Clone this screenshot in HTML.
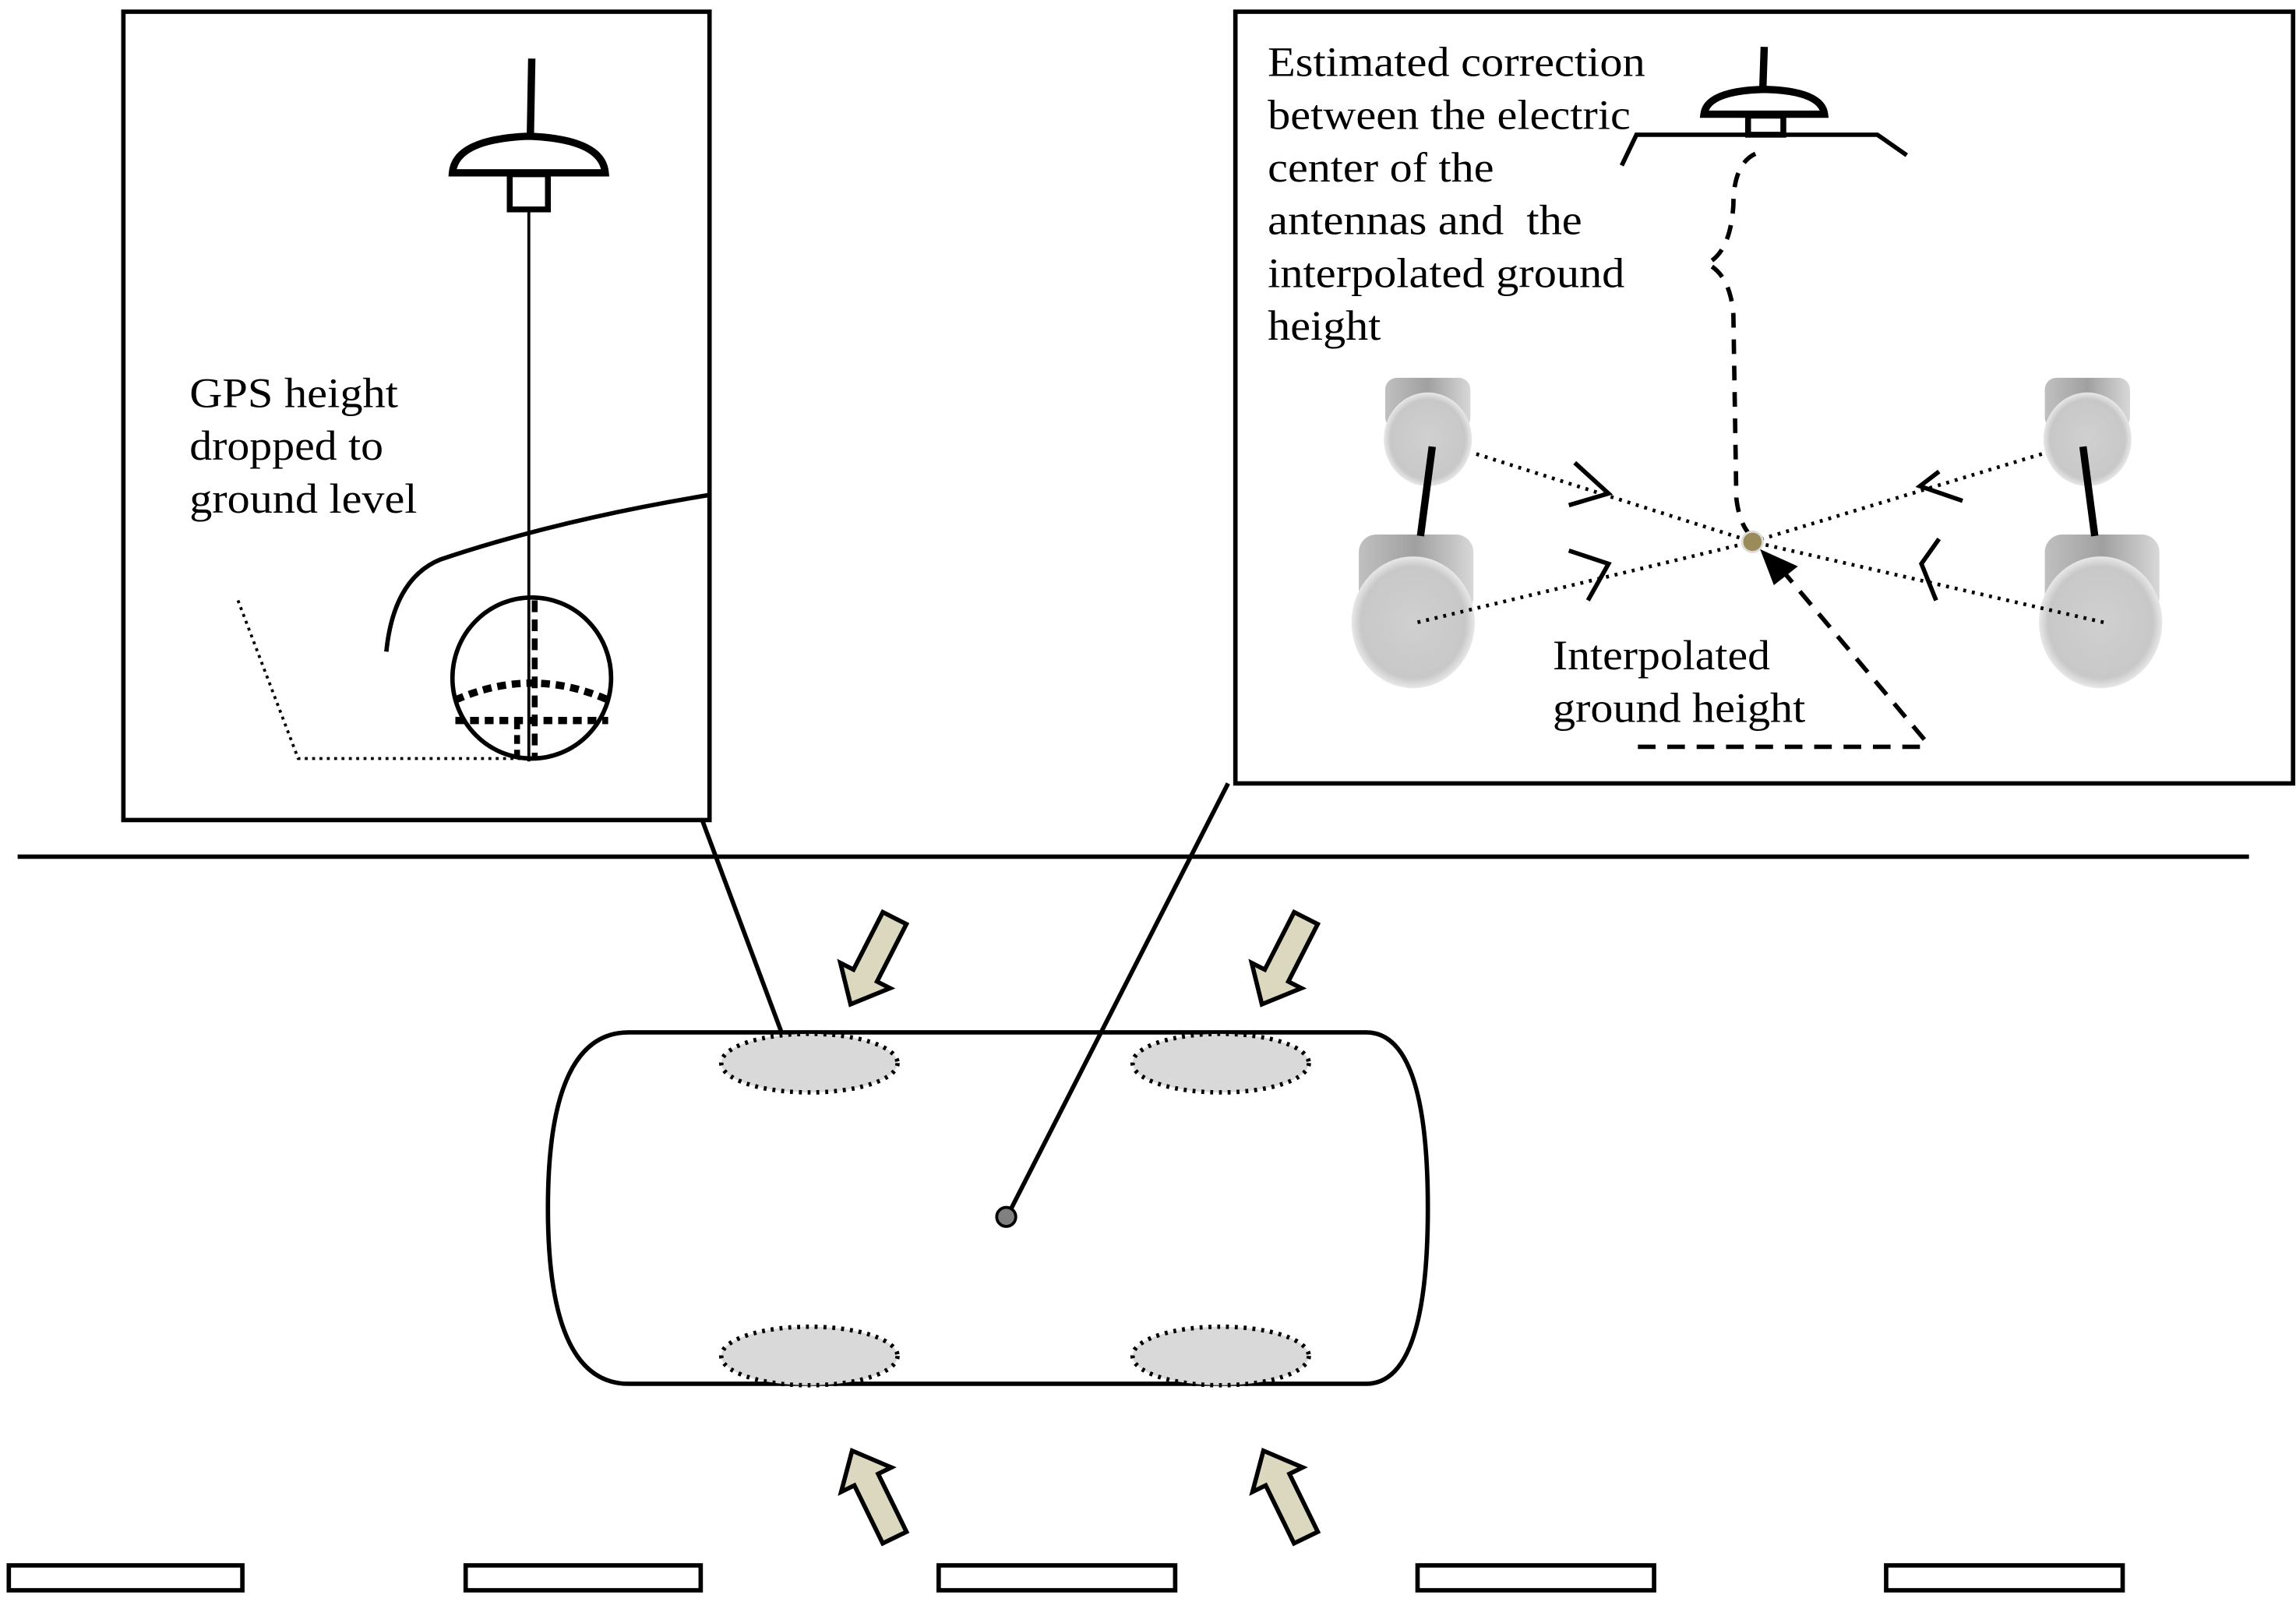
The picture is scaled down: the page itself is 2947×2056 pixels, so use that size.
<!DOCTYPE html>
<html><head><meta charset="utf-8"><style>html,body{margin:0;padding:0;background:#fff}svg{display:block}</style></head>
<body>
<svg width="2947" height="2056" viewBox="0 0 1563 1094" preserveAspectRatio="none" xmlns="http://www.w3.org/2000/svg">
<defs>
<radialGradient id="wg" cx="0.5" cy="0.5" r="0.5"><stop offset="0" stop-color="#d0d0d0"/><stop offset="0.85" stop-color="#c8c8c8"/><stop offset="1" stop-color="#e8e8e8"/></radialGradient>
<linearGradient id="wt" x1="0" y1="0" x2="1" y2="0"><stop offset="0" stop-color="#c0c0c0"/><stop offset="0.5" stop-color="#a0a0a0"/><stop offset="1" stop-color="#d8d8d8"/></linearGradient>
</defs>
<g fill="none" stroke="#000" font-family="'Liberation Serif', serif" font-size="29">
<rect x="84" y="8" width="399" height="552" stroke-width="3"/>
<rect x="841" y="8" width="720" height="527" stroke-width="3"/>
<line x1="12" y1="585" x2="1531" y2="585" stroke-width="3"/>
<!-- left box -->
<line x1="362" y1="40" x2="361" y2="95" stroke-width="5"/>
<path d="M308,118 Q310,95 360,93 Q410,95 412,118 Z" stroke-width="5"/>
<rect x="347" y="119" width="26" height="24" stroke-width="4"/>
<line x1="360" y1="143" x2="360" y2="520" stroke-width="2"/>
<ellipse cx="362" cy="463" rx="54" ry="55" stroke-width="3"/>
<path d="M310,478 Q362,455 414,478" stroke-width="5" stroke-dasharray="6,4"/>
<line x1="310" y1="492" x2="414" y2="492" stroke-width="5" stroke-dasharray="6,4"/>
<line x1="364" y1="410" x2="364" y2="518" stroke-width="4" stroke-dasharray="8,5"/>
<line x1="352" y1="492" x2="352" y2="518" stroke-width="4" stroke-dasharray="6,4"/>
<path d="M162,410 L203,518 L360,518" stroke-width="2" stroke-dasharray="2,3"/>
<path d="M263,445 Q268,395 300,382 Q380,355 483,338" stroke-width="3"/>
<g fill="#000" stroke="none" lengthAdjust="spacingAndGlyphs">
<text x="129" y="278" textLength="142" lengthAdjust="spacingAndGlyphs">GPS height</text>
<text x="129" y="314" textLength="132" lengthAdjust="spacingAndGlyphs">dropped to</text>
<text x="129" y="350" textLength="155" lengthAdjust="spacingAndGlyphs">ground level</text></g>
<!-- right box -->
<g fill="#000" stroke="none">
<text x="863" y="52" textLength="257" lengthAdjust="spacingAndGlyphs">Estimated correction</text>
<text x="863" y="88" textLength="247" lengthAdjust="spacingAndGlyphs">between the electric</text>
<text x="863" y="124" textLength="154" lengthAdjust="spacingAndGlyphs">center of the</text>
<text x="863" y="160" textLength="214" lengthAdjust="spacingAndGlyphs">antennas and&#160; the</text>
<text x="863" y="196" textLength="243" lengthAdjust="spacingAndGlyphs">interpolated ground</text>
<text x="863" y="232" textLength="77" lengthAdjust="spacingAndGlyphs">height</text>
<text x="1057" y="457" textLength="148" lengthAdjust="spacingAndGlyphs">Interpolated</text>
<text x="1057" y="493" textLength="172" lengthAdjust="spacingAndGlyphs">ground height</text>
</g>
<line x1="1201" y1="32" x2="1200" y2="62" stroke-width="5"/>
<path d="M1160,78 Q1162,62 1201,61 Q1240,62 1242,78 Z" stroke-width="5"/>
<rect x="1190" y="79" width="24" height="13" stroke-width="4"/>
<path d="M1104,113 L1114,92 L1278,92 L1298,106" stroke-width="3"/>
<path d="M1195,105 Q1180,112 1180,140 Q1178,172 1162,180 Q1178,188 1180,215 L1182,340 Q1184,358 1192,366" stroke-width="3" stroke-dasharray="10,8"/>
<g stroke="none">
<rect x="943" y="258" width="58" height="35" fill="url(#wt)" rx="8"/>
<ellipse cx="972" cy="300" rx="30" ry="32" fill="url(#wg)"/>
<rect x="1392" y="258" width="58" height="35" fill="url(#wt)" rx="8"/>
<ellipse cx="1421" cy="300" rx="30" ry="32" fill="url(#wg)"/>
<rect x="925" y="365" width="78" height="55" fill="url(#wt)" rx="12"/>
<ellipse cx="962" cy="425" rx="42" ry="45" fill="url(#wg)"/>
<rect x="1392" y="365" width="78" height="55" fill="url(#wt)" rx="12"/>
<ellipse cx="1430" cy="425" rx="42" ry="45" fill="url(#wg)"/>
</g>
<line x1="975" y1="305" x2="967" y2="366" stroke-width="5"/>
<line x1="1418" y1="305" x2="1426" y2="366" stroke-width="5"/>
<g stroke-width="2.5" stroke-dasharray="2,4">
<line x1="1005" y1="310" x2="1193" y2="370"/><line x1="965" y1="425" x2="1193" y2="370"/>
<line x1="1390" y1="310" x2="1193" y2="370"/><line x1="1432" y1="425" x2="1193" y2="370"/>
</g>
<g stroke-width="3">
<path d="M1072,316 L1095,337 L1068,345"/><path d="M1068,376 L1095,385 L1081,410"/>
<path d="M1320,322 L1307,332 L1336,342"/><path d="M1320,368 L1308,385 L1318,410"/>
</g>
<circle cx="1193" cy="370" r="7" fill="#9b8a5a" stroke="#ddd" stroke-width="1.5"/>
<path d="M1310,505 L1212,388" stroke-width="3" stroke-dasharray="12,8"/>
<path d="M1200,377 L1222,387 L1208,398 Z" fill="#000" stroke-width="2"/>
<path d="M1115,510 L1312,510" stroke-width="3" stroke-dasharray="12,8"/>
<!-- car -->
<line x1="478" y1="560" x2="532" y2="705" stroke-width="3"/>
<line x1="836" y1="535" x2="687" y2="828" stroke-width="3"/>
<path d="M428,705 L930,705 Q972,705 972,825 Q972,945 930,945 L428,945 Q373,945 373,825 Q373,705 428,705 Z" stroke-width="3"/>
<g fill="#d9d9d9" stroke-width="3" stroke-dasharray="2,4">
<ellipse cx="551" cy="726" rx="60" ry="20"/><ellipse cx="831" cy="726" rx="60" ry="20"/>
<ellipse cx="551" cy="926" rx="60" ry="20"/><ellipse cx="831" cy="926" rx="60" ry="20"/>
</g>
<circle cx="685" cy="831" r="6.5" fill="#808080" stroke-width="2"/>
<g fill="#dcd8c0" stroke-width="3">
<polygon points="0,-9 44,-9 44,-19 66,0 44,19 44,9 0,9" transform="translate(609,627) rotate(117)"/>
<polygon points="0,-9 44,-9 44,-19 66,0 44,19 44,9 0,9" transform="translate(889,627) rotate(117)"/>
<polygon points="0,-9 44,-9 44,-19 66,0 44,19 44,9 0,9" transform="translate(609,1050) rotate(-116)"/>
<polygon points="0,-9 44,-9 44,-19 66,0 44,19 44,9 0,9" transform="translate(889,1050) rotate(-116)"/>
</g>
<g stroke-width="3" fill="#fff">
<rect x="6" y="1069" width="159" height="17"/><rect x="317" y="1069" width="160" height="17"/>
<rect x="639" y="1069" width="161" height="17"/><rect x="965" y="1069" width="161" height="17"/>
<rect x="1284" y="1069" width="161" height="17"/>
</g>
</g>
</svg>
</body></html>
